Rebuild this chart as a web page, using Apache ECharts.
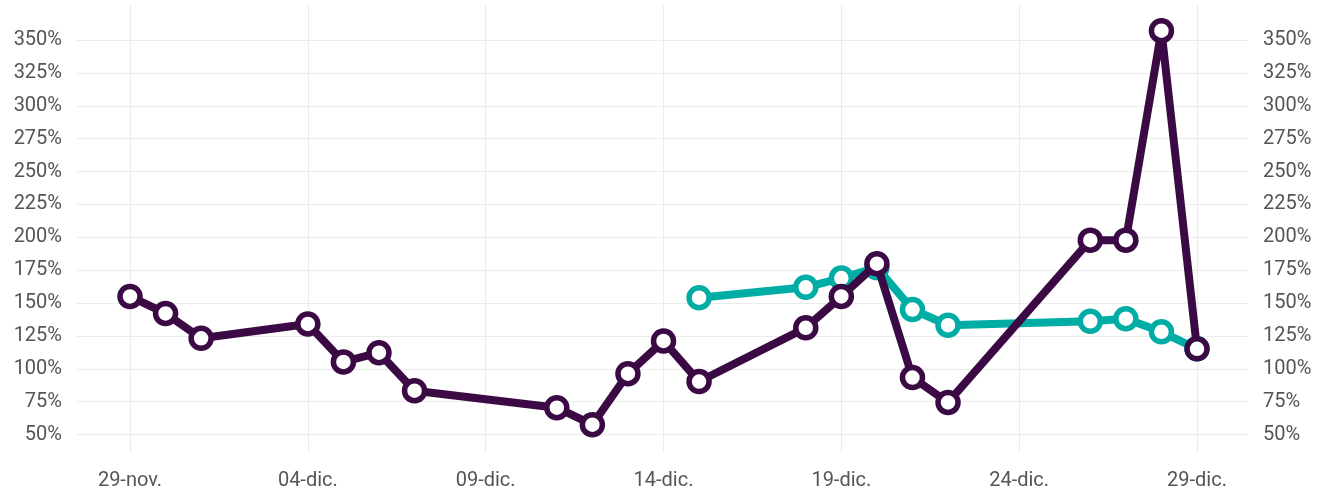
<!DOCTYPE html>
<html>
<head>
<meta charset="utf-8">
<script src="https://cdn.jsdelivr.net/npm/echarts@6/dist/echarts.min.js"></script>
<style>
  html, body { margin: 0; padding: 0; background: #fff; }
  #chart { width: 1317px; height: 491px; }
</style>
</head>
<body>
<div id="chart"></div>
<script>
// day 0 = 29-nov
const startDate = '2020-11-29';
const tickLabels = ['29-nov.', '04-dic.', '09-dic.', '14-dic.', '19-dic.', '24-dic.', '29-dic.'];

const purpleDates = ['2020-11-29', '2020-11-30', '2020-12-01', '2020-12-04', '2020-12-05', '2020-12-06',
  '2020-12-07', '2020-12-11', '2020-12-12', '2020-12-13', '2020-12-14', '2020-12-15', '2020-12-18',
  '2020-12-19', '2020-12-20', '2020-12-21', '2020-12-22', '2020-12-26', '2020-12-27', '2020-12-28',
  '2020-12-29'];
const purpleValues = [154, 141, 122, 133, 104, 111, 82, 69, 56, 95, 120, 89, 130,
  154, 179, 92, 73, 197, 197, 357, 114];

const tealDates = ['2020-12-15', '2020-12-18', '2020-12-19', '2020-12-20', '2020-12-21',
  '2020-12-22', '2020-12-26', '2020-12-27', '2020-12-28', '2020-12-29'];
const tealValues = [153, 161, 168, 176, 144, 132, 135, 137, 127, 114];

const dayIndex = (d) => Math.round((Date.parse(d) - Date.parse(startDate)) / 86400000);
const toPairs = (dates, vals) => dates.map((d, i) => [dayIndex(d), vals[i]]);

const labelStyle = { color: '#555', fontSize: 20, fontFamily: 'Roboto' };
const gridLine = { show: true, lineStyle: { color: '#ebebeb', width: 1 } };

const chart = echarts.init(document.getElementById('chart'));
chart.setOption({
  animation: false,
  backgroundColor: '#fff',
  grid: [
    // horizontal gridlines + y labels
    { left: 77, right: 69, top: 40, bottom: 56.5 },
    // data, vertical gridlines + x labels
    { left: 130, right: 120, top: 5, bottom: 36 }
  ],
  xAxis: [
    { gridIndex: 0, type: 'value', min: 0, max: 1, show: false },
    {
      gridIndex: 1, type: 'value', min: 0, max: 30, interval: 5,
      axisLine: { show: false }, axisTick: { show: false },
      splitLine: gridLine,
      axisLabel: Object.assign({}, labelStyle, {
        margin: 18,
        formatter: (v) => tickLabels[v / 5] || ''
      })
    }
  ],
  yAxis: [
    {
      gridIndex: 0, type: 'value', min: 50, max: 350, interval: 25, position: 'left',
      axisLine: { show: false }, axisTick: { show: false },
      splitLine: gridLine,
      axisLabel: Object.assign({}, labelStyle, { margin: 15, formatter: '{value}%' })
    },
    {
      gridIndex: 0, type: 'value', min: 50, max: 350, interval: 25, position: 'right',
      axisLine: { show: false }, axisTick: { show: false },
      splitLine: { show: false },
      axisLabel: Object.assign({}, labelStyle, { margin: 15, formatter: '{value}%' })
    },
    { gridIndex: 1, type: 'value', min: 34.4, max: 376.6, show: false }
  ],
  series: [
    {
      type: 'line', xAxisIndex: 1, yAxisIndex: 2,
      data: toPairs(tealDates, tealValues),
      symbol: 'circle', symbolSize: 20, showAllSymbol: true,
      lineStyle: { color: '#00ada5', width: 8 },
      itemStyle: { color: '#fff', borderColor: '#00ada5', borderWidth: 5.5 },
      z: 3
    },
    {
      type: 'line', xAxisIndex: 1, yAxisIndex: 2,
      data: toPairs(purpleDates, purpleValues),
      symbol: 'circle', symbolSize: 20, showAllSymbol: true,
      lineStyle: { color: '#3b0a45', width: 8 },
      itemStyle: { color: '#fff', borderColor: '#3b0a45', borderWidth: 5.5 },
      z: 4
    }
  ]
});
</script>
</body>
</html>
